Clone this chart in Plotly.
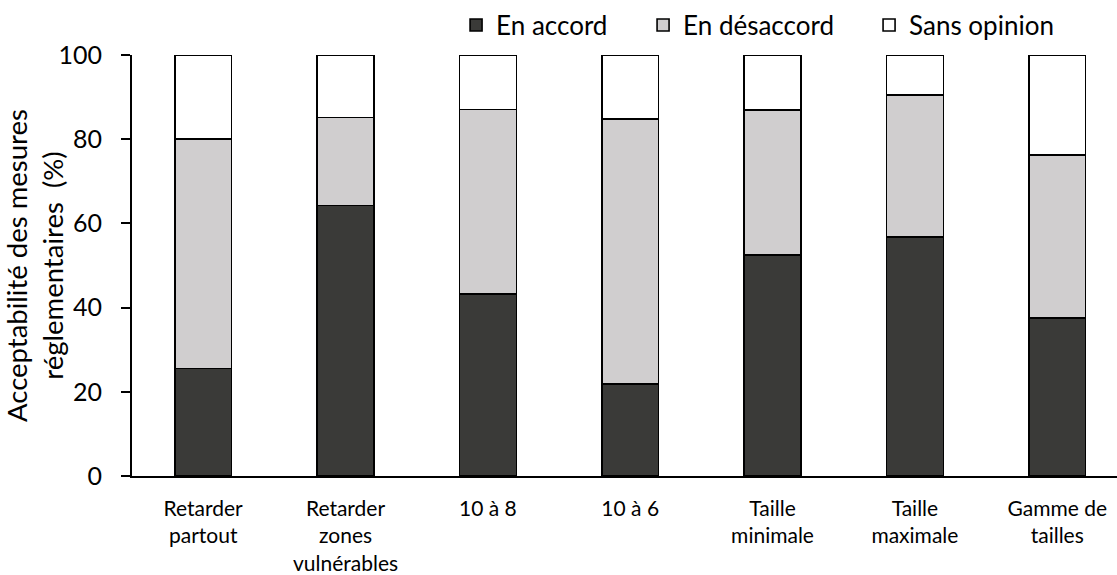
import plotly.graph_objects as go

categories = ["Retarder<br>partout", "Retarder<br>zones<br>vulnérables", "10 à 8", "10 à 6",
              "Taille<br>minimale", "Taille<br>maximale", "Gamme de<br>tailles"]
en_accord = [25.5, 64.3, 43.2, 21.9, 52.5, 56.8, 37.5]
en_desaccord = [54.6, 20.9, 43.9, 62.9, 34.4, 33.7, 38.7]
sans_opinion = [19.9, 14.8, 12.9, 15.2, 13.1, 9.5, 23.8]
y_ticks = [0, 20, 40, 60, 80, 100]

FONT = "Lato"
fig = go.Figure()
series = [("En accord", en_accord, "#3a3a38", 142),
          ("En désaccord", en_desaccord, "#d0cecf", 181),
          ("Sans opinion", sans_opinion, "#ffffff", 165)]
for name, vals, col, lw in series:
    fig.add_trace(go.Bar(
        x=list(range(len(categories))), y=vals, name=name,
        marker=dict(color=col, line=dict(color="#000000", width=1.6)),
        width=0.4, legendwidth=lw,
    ))

fig.update_layout(
    barmode="stack",
    width=1117, height=575,
    margin=dict(l=132, r=0, t=55, b=97),
    plot_bgcolor="white", paper_bgcolor="white",
    font=dict(family=FONT, color="#000000"),
    showlegend=True,
    legend=dict(orientation="h", x=0.329, xanchor="left", y=1.071, yanchor="middle",
                font=dict(size=26, family=FONT), traceorder="normal",
                bgcolor="rgba(0,0,0,0)"),
    xaxis=dict(
        tickmode="array", tickvals=list(range(len(categories))), ticktext=categories,
        range=[-0.5, 6.42], showgrid=False, zeroline=False,
        showline=True, linecolor="#000000", linewidth=1.8,
        ticks="", tickfont=dict(size=21, family=FONT), ticklabelstandoff=13,
        fixedrange=True,
    ),
    yaxis=dict(
        range=[0, 100], tickmode="array", tickvals=y_ticks,
        showgrid=False, zeroline=False,
        showline=True, linecolor="#000000", linewidth=1.8,
        ticks="outside", ticklen=9, tickwidth=1.8, tickcolor="#000000",
        tickfont=dict(size=25, family=FONT), ticklabelstandoff=14,
        title=dict(text="Acceptabilité des mesures<br>réglementaires  (%)",
                   font=dict(size=27.5, family=FONT), standoff=0),
    ),
)

fig.write_html("out.html", config={"displayModeBar": False},
               post_script="document.body.style.margin='0';")
